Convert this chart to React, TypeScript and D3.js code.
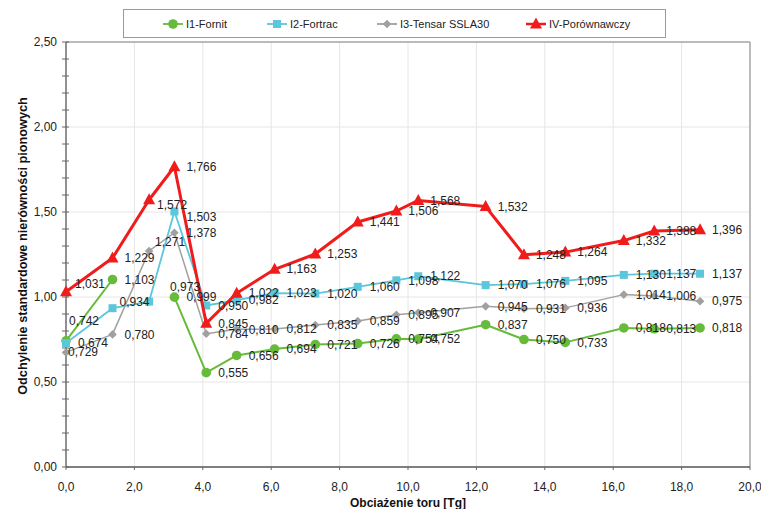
import React from "react";
import * as d3 from "d3";

// ---- data ----
const loadTg = [0, 1.36, 2.43, 3.17, 4.1, 4.99, 6.1, 7.29, 8.53, 9.66, 10.3, 12.27, 13.39, 14.6, 16.31, 17.2, 18.54];
const fornit: (number | null)[] = [0.742, 1.103, null, 0.999, 0.555, 0.656, 0.694, 0.721, 0.726, 0.754, 0.752, 0.837, 0.75, 0.733, 0.818, 0.813, 0.818];
const fortrac = [0.729, 0.934, 0.973, 1.503, 0.95, 0.982, 1.023, 1.02, 1.06, 1.098, 1.122, 1.07, 1.076, 1.095, 1.13, 1.137, 1.137];
const tensar = [0.674, 0.78, 1.271, 1.378, 0.784, 0.81, 0.812, 0.835, 0.859, 0.895, 0.907, 0.945, 0.931, 0.936, 1.014, 1.006, 0.975];
const porownawczy = [1.031, 1.229, 1.572, 1.766, 0.845, 1.022, 1.163, 1.253, 1.441, 1.506, 1.568, 1.532, 1.248, 1.264, 1.332, 1.388, 1.396];
const seriesNames = ["I1-Fornit", "I2-Fortrac", "I3-Tensar SSLA30", "IV-Porównawczy"];
const xTicks = [0, 2, 4, 6, 8, 10, 12, 14, 16, 18, 20];
const yTicks = [0, 0.5, 1, 1.5, 2, 2.5];
const yTitle = "Odchylenie standardowe nierówności pionowych";
const xTitle = "Obciażenie toru [Tg]";

// ---- styles ----
const W = 761, H = 509;
const M = { left: 66, right: 750, top: 42, bottom: 467 };
const FONT = "'Liberation Sans', Arial, Helvetica, sans-serif";
const colors = ["#66bb3a", "#5cc6da", "#a0a0a0", "#f01c1c"];
const lineWidths = [2, 1.8, 1.5, 3];
// label nudges [series, index, dx, dy] (default dx=12, dy=0)
const labelNudges: [number, number, number, number][] = [
  [0, 0, 3, -20],
  [1, 0, 2, 9],
  [1, 1, 7, -6],
  [1, 2, 21, -15],
  [1, 3, 12, 5],
  [2, 0, 12, -10],
  [2, 2, 6, -9],
  [3, 0, 9, -8],
  [3, 2, 8, 5],
];

const fmt = (v: number, d: number) => v.toFixed(d).replace(".", ",");

function Marker({ kind, x, y, color }: { kind: number; x: number; y: number; color: string }) {
  if (kind === 0) return <circle cx={x} cy={y} r={4.8} fill={color} />;
  if (kind === 1) return <rect x={x - 4} y={y - 4} width={8} height={8} fill={color} />;
  if (kind === 2)
    return <path d={`M${x},${y - 4.3}L${x + 4.3},${y}L${x},${y + 4.3}L${x - 4.3},${y}Z`} fill={color} />;
  return <path d={`M${x},${y - 6.5}L${x + 6},${y + 4.5}L${x - 6},${y + 4.5}Z`} fill={color} />;
}

export default function App() {
  const x = d3.scaleLinear().domain([0, 20]).range([M.left, M.right]);
  const y = d3.scaleLinear().domain([0, 2.5]).range([M.bottom, M.top]);
  const all = [fornit, fortrac, tensar, porownawczy];
  const line = d3
    .line<[number, number | null]>()
    .defined((d) => d[1] !== null)
    .x((d) => x(d[0]))
    .y((d) => y(d[1] as number));

  const minorY = d3.range(0, 2.501, 0.1);
  const legendX = [163, 267, 377, 526];

  return (
    <div style={{ position: "fixed", left: 0, top: 0 }}>
      <svg width={W} height={H} style={{ display: "block", background: "#fff" }} fontFamily={FONT}>
        {/* grid */}
        {xTicks.slice(1).map((t) => (
          <line key={"gx" + t} x1={x(t)} x2={x(t)} y1={M.top} y2={M.bottom} stroke="#e6e6e6" strokeWidth={1} />
        ))}
        {yTicks.slice(1).map((t) => (
          <line key={"gy" + t} x1={M.left} x2={M.right} y1={y(t)} y2={y(t)} stroke="#e6e6e6" strokeWidth={1} />
        ))}
        {/* frame top/right */}
        <line x1={M.left} x2={M.right} y1={M.top} y2={M.top} stroke="#a8a8a8" strokeWidth={1.5} />
        <line x1={M.right} x2={M.right} y1={M.top} y2={M.bottom} stroke="#a8a8a8" strokeWidth={1.5} />
        {/* axes */}
        <line x1={M.left} x2={M.left} y1={M.top} y2={M.bottom} stroke="#555" strokeWidth={1.3} />
        <line x1={M.left} x2={M.right} y1={M.bottom} y2={M.bottom} stroke="#555" strokeWidth={1.3} />
        {minorY.map((t, i) => (
          <line key={"ty" + i} x1={M.left - 4} x2={M.left + 3} y1={y(t)} y2={y(t)} stroke="#666" strokeWidth={1} />
        ))}
        {xTicks.map((t) => (
          <line key={"tx" + t} x1={x(t)} x2={x(t)} y1={M.bottom} y2={M.bottom + 3} stroke="#666" strokeWidth={1} />
        ))}
        {yTicks.map((t) => (
          <text key={"ly" + t} x={M.left - 9} y={y(t)} dy="0.35em" textAnchor="end" fontSize={12} fill="#222">
            {fmt(t, 2)}
          </text>
        ))}
        {xTicks.map((t) => (
          <text key={"lx" + t} x={x(t)} y={M.bottom + 20} dy="0.35em" textAnchor="middle" fontSize={12} fill="#222">
            {fmt(t, 1)}
          </text>
        ))}
        <text
          x={0}
          y={0}
          transform={`translate(23,246) rotate(-90)`}
          textAnchor="middle"
          dy="0.35em"
          fontSize={12.7}
          fontWeight="bold"
          fill="#111"
        >
          {yTitle}
        </text>
        <text x={(M.left + M.right) / 2} y={503} dy="0.35em" textAnchor="middle" fontSize={12} fontWeight="bold" fill="#111">
          {xTitle}
        </text>

        {/* series */}
        {all.map((vals, si) => (
          <g key={"s" + si}>
            <path
              d={line(loadTg.map((t, i) => [t, vals[i]] as [number, number | null])) || ""}
              fill="none"
              stroke={colors[si]}
              strokeWidth={lineWidths[si]}
              strokeLinejoin="round"
            />
            {loadTg.map((t, i) =>
              vals[i] === null ? null : (
                <Marker key={i} kind={si} x={x(t)} y={y(vals[i] as number)} color={colors[si]} />
              )
            )}
          </g>
        ))}
        {/* data labels */}
        {all.map((vals, si) =>
          loadTg.map((t, i) => {
            const v = vals[i];
            if (v === null) return null;
            const n = labelNudges.find((e) => e[0] === si && e[1] === i);
            const dx = n ? n[2] : 12;
            const dy = n ? n[3] : 0;
            return (
              <text key={`l${si}-${i}`} x={x(t) + dx} y={y(v) + dy} dy="0.35em" fontSize={12} fill="#222">
                {fmt(v, 3)}
              </text>
            );
          })
        )}

        {/* legend */}
        <rect x={123.5} y={9.5} width={542} height={28} fill="#fff" stroke="#9a9a9a" strokeWidth={1} />
        {seriesNames.map((name, si) => {
          const lx = legendX[si];
          const cy = 24;
          return (
            <g key={"lg" + si}>
              <line x1={lx} x2={lx + 20} y1={cy} y2={cy} stroke={colors[si]} strokeWidth={si === 3 ? 2.5 : 1.8} />
              <Marker kind={si} x={lx + 10} y={cy} color={colors[si]} />
              <text x={lx + 23} y={cy} dy="0.35em" fontSize={11} fill="#222">
                {name}
              </text>
            </g>
          );
        })}
      </svg>
    </div>
  );
}
